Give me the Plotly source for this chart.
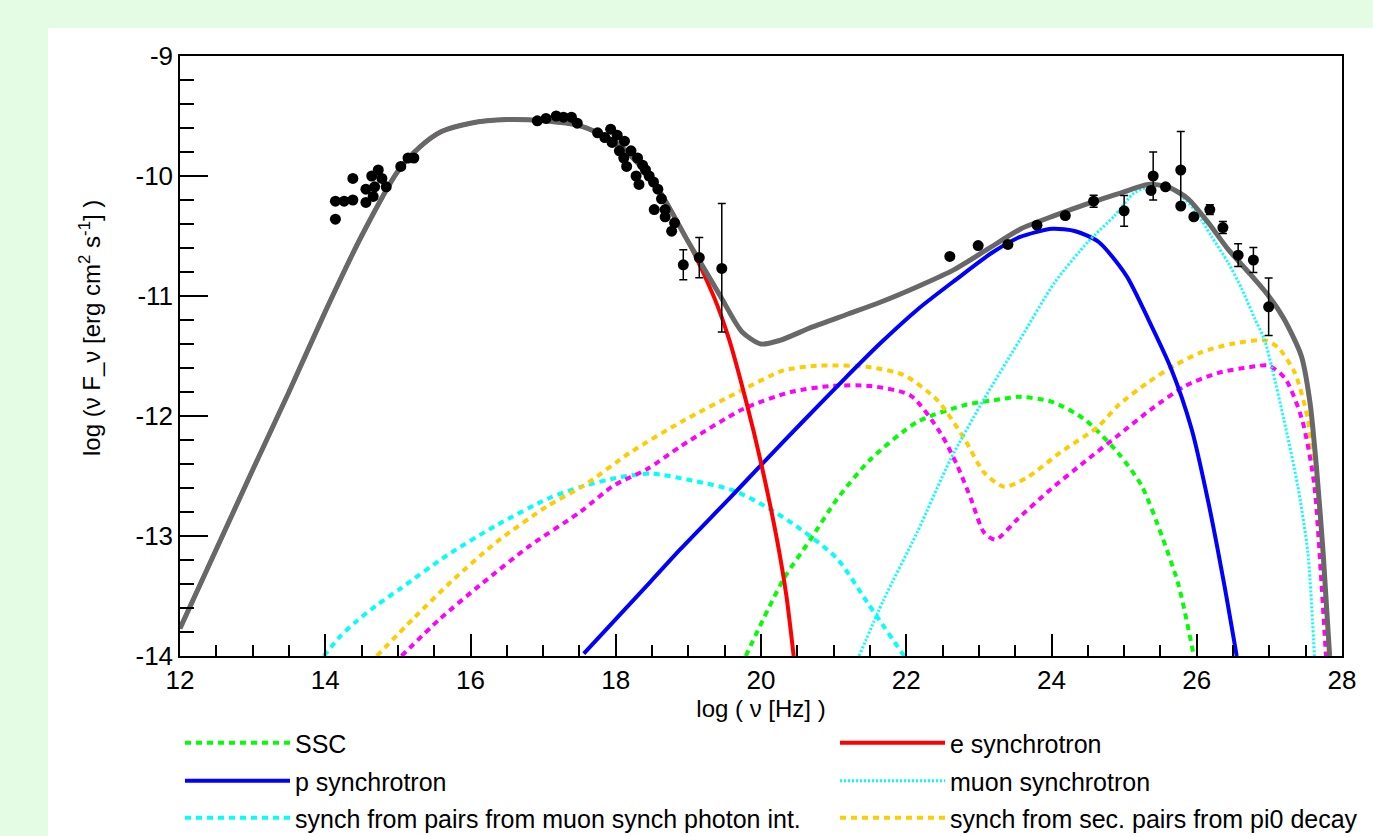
import plotly.graph_objects as go

# ---------------- data ----------------
# total model (gray)
tot_x = [12, 13, 13.5, 14, 14.5, 15, 15.3, 15.6, 16, 16.5, 17, 17.5, 18, 18.5, 19, 19.44, 19.74, 20.0,
         20.26, 20.7, 21.2, 21.65, 22.2, 22.66, 23.12, 23.58, 24.04, 24.5, 24.96, 25.33, 25.6, 25.88,
         26.16, 26.43, 26.71, 26.99, 27.2, 27.44, 27.56, 27.65, 27.74, 27.83]
tot_y = [-13.77, -12.45, -11.8, -11.13, -10.5, -9.96, -9.76, -9.63, -9.56, -9.53, -9.54, -9.58, -9.72,
         -10.03, -10.55, -11.0, -11.30, -11.40, -11.37, -11.26, -11.15, -11.05, -10.91, -10.78, -10.61,
         -10.44, -10.33, -10.23, -10.14, -10.07, -10.09, -10.19, -10.39, -10.61, -10.80, -11.0, -11.19,
         -11.50, -11.89, -12.44, -13.14, -14.0]

# e synchrotron (red)
esyn_x = [12, 13, 13.5, 14, 14.5, 15, 15.3, 15.6, 16, 16.5, 17, 17.5, 18, 18.5, 19, 19.2, 19.4, 19.56,
          19.8, 20.0, 20.22, 20.35, 20.45]
esyn_y = [-13.77, -12.45, -11.8, -11.13, -10.5, -9.96, -9.76, -9.63, -9.56, -9.53, -9.54, -9.58, -9.72,
          -10.03, -10.55, -10.8, -11.08, -11.36, -11.89, -12.39, -13.03, -13.5, -14.0]

# p synchrotron (blue)
psyn_x = [17.56, 18.48, 18.89, 19.56, 20.0, 20.57, 21.15, 21.65, 22.16, 22.67, 23.18, 23.56, 24.01,
          24.33, 24.65, 25.03, 25.33, 25.65, 25.93, 26.16, 26.38, 26.55]
psyn_y = [-13.98, -13.38, -13.11, -12.69, -12.41, -12.05, -11.69, -11.39, -11.11, -10.87, -10.64,
          -10.51, -10.44, -10.46, -10.55, -10.83, -11.19, -11.61, -12.11, -12.72, -13.41, -14.0]

# SSC (green)
ssc_x = [19.79, 20.31, 20.68, 21.05, 21.51, 22.15, 22.8, 23.3, 23.54, 24.0, 24.46, 24.92, 25.24,
         25.52, 25.75, 25.95]
ssc_y = [-14.0, -13.36, -13.03, -12.69, -12.36, -12.05, -11.91, -11.86, -11.84, -11.88, -12.03,
         -12.31, -12.58, -13.0, -13.41, -13.97]

# muon synchrotron (cyan dotted)
mu_x = [21.35, 21.69, 22.15, 22.61, 23.07, 23.57, 24.04, 24.5, 24.87, 25.14, 25.42, 25.69, 25.97,
        26.2, 26.43, 26.62, 26.8, 26.93, 27.04, 27.2, 27.39, 27.53, 27.62]
mu_y = [-14.0, -13.53, -12.97, -12.36, -11.86, -11.36, -10.89, -10.55, -10.33, -10.14, -10.08,
        -10.12, -10.28, -10.50, -10.72, -10.94, -11.19, -11.36, -11.61, -12.03, -12.58, -13.14, -14.0]

# synch from pairs from muon synch photon int. (cyan dashed)
mupair_x = [13.98, 14.2, 14.43, 14.7, 15.03, 15.68, 16.36, 17.06, 17.52, 18.06, 18.48, 19.07, 19.62,
            20.08, 20.54, 21.05, 21.46, 21.97]
mupair_y = [-14.0, -13.84, -13.71, -13.58, -13.44, -13.16, -12.91, -12.69, -12.59, -12.51, -12.48,
            -12.54, -12.62, -12.76, -12.94, -13.19, -13.55, -14.0]

# synch from sec. pairs from pi0 decay (orange dashed)
pi0_x = [14.71, 15.21, 15.77, 16.36, 17.06, 17.56, 18.21, 18.9, 19.72, 20.31, 20.82, 21.46, 21.97,
         22.43, 22.8, 23.07, 23.35, 23.67, 24.13, 24.64, 24.92, 25.33, 25.69, 26.06, 26.47, 26.94,
         27.12, 27.35, 27.53, 27.62, 27.69, 27.78]
pi0_y = [-14.0, -13.69, -13.36, -13.05, -12.75, -12.58, -12.30, -12.05, -11.79, -11.62, -11.58,
         -11.59, -11.66, -11.87, -12.19, -12.47, -12.59, -12.51, -12.30, -12.09, -11.91, -11.72,
         -11.58, -11.47, -11.40, -11.37, -11.43, -11.64, -12.03, -12.58, -13.14, -14.0]

# additional pair component (magenta dashed, not in legend)
mag_x = [15.05, 15.58, 16.13, 16.82, 17.51, 17.97, 18.44, 18.9, 19.76, 20.41, 20.96, 21.51, 22.06,
         22.47, 22.7, 22.89, 23.07, 23.23, 23.53, 23.99, 24.46, 24.92, 25.38, 25.84, 26.3, 26.76,
         26.99, 27.22, 27.45, 27.62, 27.72, 27.78]
mag_y = [-14.0, -13.69, -13.41, -13.08, -12.80, -12.58, -12.44, -12.25, -11.94, -11.80, -11.75,
         -11.75, -11.83, -12.14, -12.41, -12.69, -12.97, -13.03, -12.86, -12.61, -12.38, -12.16,
         -11.94, -11.75, -11.64, -11.59, -11.58, -11.69, -12.03, -12.58, -13.41, -14.0]

# observed data points
obs_x = [14.14, 14.14, 14.26, 14.38, 14.38, 14.56, 14.56, 14.64, 14.66, 14.73, 14.68, 14.78, 14.84,
         15.04, 15.14, 15.22,
         16.92, 17.04, 17.18, 17.28, 17.39, 17.47, 17.75, 17.85, 17.93, 17.95, 18.02, 18.05, 18.12,
         18.11, 18.15, 18.21, 18.30, 18.28, 18.32, 18.37, 18.41, 18.46, 18.52, 18.58, 18.63, 18.53,
         18.68, 18.68, 18.81, 18.77, 18.93, 19.15, 19.46,
         22.60, 22.99, 23.40, 23.80, 24.19, 24.58, 25.00, 25.40, 25.37, 25.57, 25.78, 25.78, 25.96,
         26.18, 26.36, 26.57, 26.78, 26.99]
obs_y = [-10.21, -10.36, -10.21, -10.20, -10.02, -10.22, -10.11, -10.00, -10.17, -9.95, -10.09,
         -10.02, -10.09, -9.92, -9.85, -9.85,
         -9.54, -9.52, -9.50, -9.51, -9.51, -9.56, -9.64, -9.68, -9.61, -9.72, -9.66, -9.79, -9.71,
         -9.85, -9.92, -9.79, -9.85, -10.00, -10.07, -9.91, -9.95, -10.00, -10.05, -10.11, -10.19,
         -10.28, -10.28, -10.34, -10.39, -10.46, -10.74, -10.68, -10.77,
         -10.67, -10.58, -10.57, -10.41, -10.33, -10.21, -10.29, -10.00, -10.12, -10.09, -9.95,
         -10.25, -10.34, -10.28, -10.43, -10.66, -10.70, -11.09]
obs_err_up = [0] * 16 + [0] * 30 + [0.125, 0.167, 0.54] + \
             [0, 0, 0, 0, 0, 0.05, 0.128, 0.20, 0, 0, 0.32, 0, 0, 0.04, 0.05, 0.095, 0.105, 0.24]
obs_err_dn = [0] * 16 + [0] * 30 + [0.125, 0.167, 0.53] + \
             [0, 0, 0, 0, 0, 0.05, 0.128, 0.20, 0, 0, 0.31, 0, 0, 0.04, 0.05, 0.095, 0.105, 0.24]

x_tick_vals = [12, 14, 16, 18, 20, 22, 24, 26, 28]
x_tick_text = ["12", "14", "16", "18", "20", "22", "24", "26", "28"]
y_tick_vals = [-14, -13, -12, -11, -10, -9]
y_tick_text = ["-14", "-13", "-12", "-11", "-10", "-9"]

# ---------------- figure ----------------
FONT = "Liberation Sans, Arial, Helvetica, sans-serif"
fig = go.Figure()

def curve(x, y, name, color, width, dash, legend=None, show=True):
    fig.add_trace(go.Scatter(
        x=x, y=y, mode="lines", name=name,
        line=dict(color=color, width=width, dash=dash, shape="spline", smoothing=0.7),
        showlegend=show, legend=legend, hoverinfo="name+x+y"))

curve(ssc_x, ssc_y, "SSC", "#00ff00", 4, "6px,5px", "legend")
curve(mupair_x, mupair_y, "synch from pairs from muon synch photon int.", "#00ffff", 4, "6px,5px", "legend5")
curve(pi0_x, pi0_y, "synch from sec. pairs from pi0 decay", "#ffcc00", 4, "6px,5px", "legend6")
curve(mag_x, mag_y, "pairs (magenta)", "#ff00ff", 4, "6px,5px", show=False)
curve(psyn_x, psyn_y, "p synchrotron", "#0000ff", 4, "solid", "legend3")
curve(mu_x, mu_y, "muon synchrotron", "#00ffff", 3, "2px,2px", "legend4")
curve(esyn_x, esyn_y, "e synchrotron", "#ff0000", 4, "solid", "legend2")
curve(tot_x, tot_y, "total", "#686868", 5, "solid", show=False)

fig.add_trace(go.Scatter(
    x=obs_x, y=obs_y, mode="markers", name="data", showlegend=False,
    marker=dict(color="black", size=11),
    error_y=dict(type="data", symmetric=False, array=obs_err_up, arrayminus=obs_err_dn,
                 color="black", thickness=1.5, width=4)))

# plot area geometry (pixels)
W, H = 1373, 836
L, R, T, B = 180, 1342, 56, 656
PW, PH = R - L, B - T

def px(xp):
    return (xp - L) / PW

def py(yp):
    return (B - yp) / PH

leg_common = dict(orientation="v", xanchor="left", yanchor="middle", bgcolor="rgba(0,0,0,0)",
                  borderwidth=0, itemwidth=105, font=dict(family=FONT, size=25, color="black"))
col1, col2 = 180, 835
rows = [743, 781, 818]

fig.update_layout(
    width=W, height=H,
    margin=dict(l=L, r=W - R, t=T, b=H - B, autoexpand=False),
    paper_bgcolor="#e4fbe4",
    plot_bgcolor="white",
    font=dict(family=FONT, color="black"),
    legend=dict(x=px(col1), y=py(rows[0]), **leg_common),
    legend2=dict(x=px(col2), y=py(rows[0]), **leg_common),
    legend3=dict(x=px(col1), y=py(rows[1]), **leg_common),
    legend4=dict(x=px(col2), y=py(rows[1]), **leg_common),
    legend5=dict(x=px(col1), y=py(rows[2]), **leg_common),
    legend6=dict(x=px(col2), y=py(rows[2]), **leg_common),
    xaxis=dict(range=[12, 28], tickmode="array", tickvals=x_tick_vals, ticktext=x_tick_text,
               ticks="inside", ticklen=22, tickwidth=1.5, tickcolor="black",
               minor=dict(tickmode="linear", tick0=12, dtick=0.5, ticks="inside", ticklen=11,
                          tickwidth=1.5, tickcolor="black"),
               showline=True, mirror=True, linecolor="black", linewidth=1.5,
               showgrid=False, zeroline=False,
               tickfont=dict(family=FONT, size=26, color="black"),
               title=dict(text="log ( ν [Hz] )", font=dict(family=FONT, size=24, color="black"),
                          standoff=0)),
    yaxis=dict(range=[-14, -9], tickmode="array", tickvals=y_tick_vals, ticktext=y_tick_text,
               ticks="inside", ticklen=28, tickwidth=1.5, tickcolor="black",
               minor=dict(tickmode="linear", tick0=-14, dtick=0.2, ticks="inside", ticklen=14,
                          tickwidth=1.5, tickcolor="black"),
               showline=True, mirror=True, linecolor="black", linewidth=1.5,
               showgrid=False, zeroline=False,
               tickfont=dict(family=FONT, size=26, color="black")),
    shapes=[dict(type="rect", xref="paper", yref="paper", layer="below",
                 x0=px(48), x1=px(1400), y0=py(900), y1=py(28),
                 fillcolor="white", line=dict(width=0))],
    annotations=[dict(text="log (ν F_ν [erg cm<sup>2</sup> s<sup>-1</sup>] )", textangle=-90,
                      xref="paper", yref="paper", x=px(90), y=py(328),
                      xanchor="center", yanchor="middle", showarrow=False,
                      font=dict(family=FONT, size=24, color="black"))],
)

fig.write_html("out.html",
               config={"displayModeBar": False},
               post_script="document.body.style.margin='0';document.body.style.overflow='hidden';")
